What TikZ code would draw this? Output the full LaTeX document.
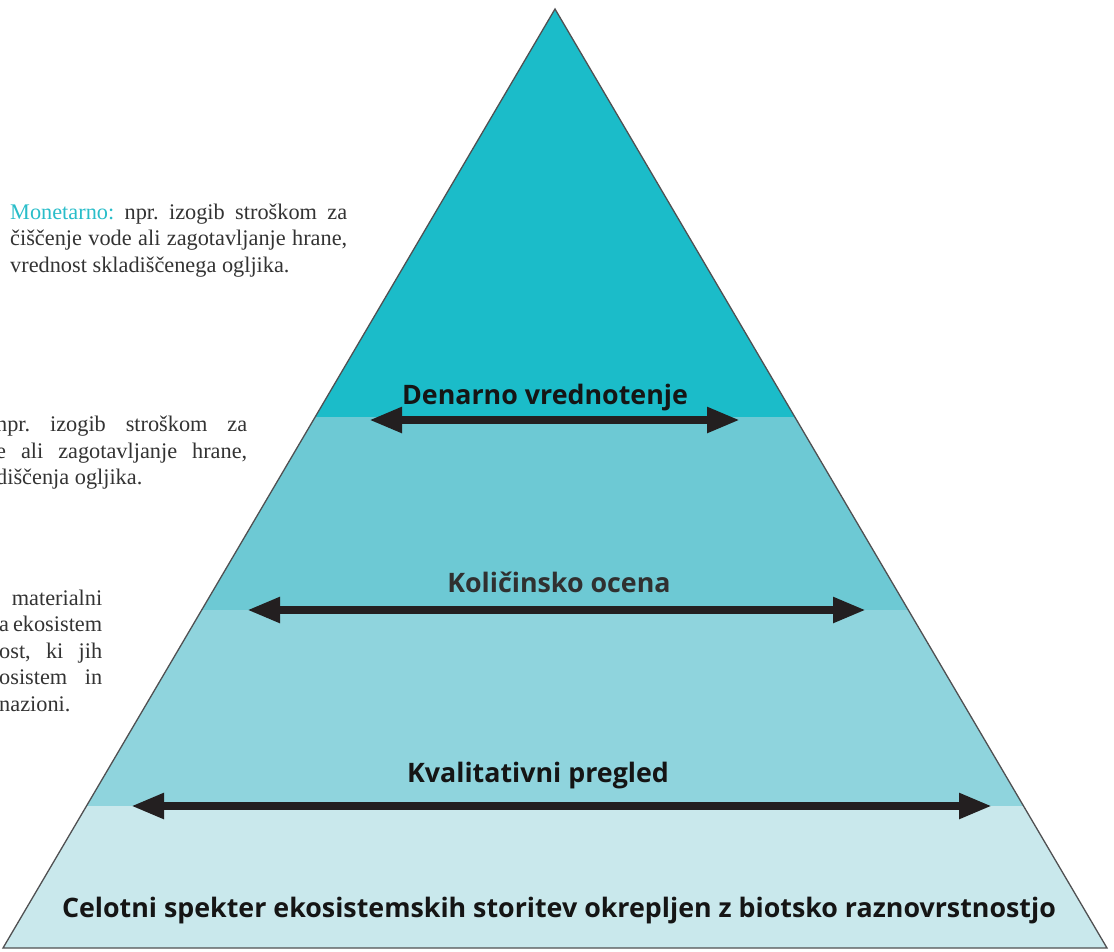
\documentclass[tikz,border=0pt]{standalone}
\usepackage{fontspec}
\setmainfont{Liberation Serif}
\newfontfamily\labfont{Open Sans}
\usetikzlibrary{arrows.meta}
\definecolor{bandA}{HTML}{1BBCC9}
\definecolor{bandB}{HTML}{6DC9D4}
\definecolor{bandC}{HTML}{8FD4DD}
\definecolor{bandD}{HTML}{C9E8EC}
\definecolor{outl}{HTML}{505052}
\definecolor{arrc}{HTML}{231F20}
\definecolor{txt}{HTML}{333333}
\definecolor{labdark}{HTML}{151515}
\definecolor{labgray}{HTML}{303030}
\definecolor{teal}{HTML}{29BDC9}
\frenchspacing
\begin{document}
\begin{tikzpicture}[x=1pt,y=-1pt,
  edge/.style={draw=outl, line width=1.3pt, line join=miter},
  arr/.style={line width=8pt, draw=arrc, {Triangle[length=33pt,width=24pt]}-{Triangle[length=33pt,width=24pt]}},
  lab/.style={font=\labfont\bfseries\fontsize{26.8}{32}\selectfont, text=#1, inner sep=0, anchor=base},
  side/.style={font=\frenchspacing\fontsize{22.3}{26.5}\selectfont, text=txt, inner sep=0, align=left, anchor=base west}]
\useasboundingbox (0,0) rectangle (1114,951);
% pyramid corners
\coordinate (A) at (555,9);
\coordinate (L1) at (315.1,417); \coordinate (R1) at (794.9,417);
\coordinate (L2) at (201.7,610); \coordinate (R2) at (908.3,610);
\coordinate (L3) at (86.4,806);  \coordinate (R3) at (1023.6,806);
\coordinate (BL) at (3,948);     \coordinate (BR) at (1107,948);
% bands
\fill[bandA] (A) -- (L1) -- (R1) -- cycle;
\fill[bandB] (L1) -- (L2) -- (R2) -- (R1) -- cycle;
\fill[bandC] (L2) -- (L3) -- (R3) -- (R2) -- cycle;
\fill[bandD] (L3) -- (BL) -- (BR) -- (R3) -- cycle;
\draw[edge] (A) -- (BL) -- (BR) -- cycle;
% arrows
\coordinate (d1) at (369,420); \coordinate (d2) at (740,420);
\coordinate (k1) at (247,610); \coordinate (k2) at (866,610);
\coordinate (q1) at (131,806); \coordinate (q2) at (992,806);
\draw[arr] (d1) -- (d2);
\draw[arr] (k1) -- (k2);
\draw[arr] (q1) -- (q2);
% labels
\node[lab=labdark] (tD) at (545,404) {Denarno vrednotenje};
\node[lab=labgray] (tK) at (559,592) {Količinsko ocena};
\node[lab=labdark] (tQ) at (538,782) {Kvalitativni pregled};
\node[lab=labdark] (tC) at (559,917) {Celotni spekter ekosistemskih storitev okrepljen z biotsko raznovrstnostjo};
% side texts (anchor = baseline of last line)
\node[side] (s1) at (10,272) {\makebox[337pt][s]{\textcolor{teal}{Monetarno:} npr. izogib stroškom za}\\
\makebox[337pt][s]{čiščenje vode ali zagotavljanje hrane,}\\
vrednost skladiščenega ogljika.};
\node[side] (s2) at (-4,484.5) {\makebox[251pt][s]{npr. izogib stroškom za}\\
\makebox[251pt][s]{e ali zagotavljanje hrane,}\\
diščenja ogljika.};
\node[side] (s3) at (-1,711) {\makebox[103pt][r]{materialni}\\
\makebox[103pt][s]{a ekosistem}\\
\makebox[103pt][s]{ost, ki jih}\\
\makebox[103pt][s]{osistem in}\\
nazioni.};
\end{tikzpicture}
\end{document}
